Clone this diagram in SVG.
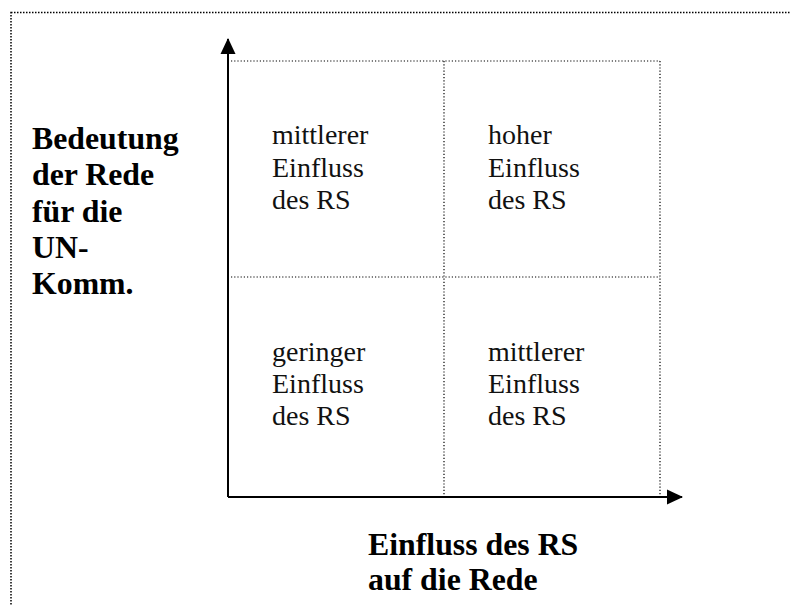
<svg xmlns="http://www.w3.org/2000/svg" width="791" height="606" viewBox="0 0 791 606">
  <style>
    .frame { fill: none; stroke: #000; stroke-width: 1.5; stroke-dasharray: 1.5 1.5; }
    .grid { fill: none; stroke: #000; stroke-width: 1.2; stroke-dasharray: 1.2 2; }
    .axis { fill: none; stroke: #000; stroke-width: 2; }
    .lbl { font-family: "Liberation Serif", "Times New Roman", serif; font-size: 31.8px; font-weight: bold; fill: #000; }
    .q { font-family: "Liberation Serif", "Times New Roman", serif; font-size: 28px; fill: #111; }
  </style>
  <defs>
    <marker id="arr" markerUnits="userSpaceOnUse" markerWidth="16" markerHeight="16" refX="15" refY="8" orient="auto">
      <path d="M0,0.5 L16,8 L0,15.5 Z" fill="#000"/>
    </marker>
  </defs>
  <rect width="791" height="606" fill="#fff"/>
  <rect class="frame" x="11" y="12.5" width="820" height="700"/>

  <g id="grid">
    <line class="grid" x1="231" y1="61" x2="660" y2="61"/>
    <line class="grid" x1="660" y1="61" x2="660" y2="497"/>
    <line class="grid" x1="444" y1="61" x2="444" y2="497"/>
    <line class="grid" x1="231" y1="277" x2="660" y2="277"/>
  </g>

  <g id="connectors">
    <line class="axis" x1="228" y1="497" x2="228" y2="39" marker-end="url(#arr)"/>
    <line class="axis" x1="228" y1="497" x2="682" y2="497" marker-end="url(#arr)"/>
  </g>

  <g id="label-y">
    <text class="lbl" x="32" y="149">Bedeutung</text>
    <text class="lbl" x="32" y="185">der Rede</text>
    <text class="lbl" x="32" y="221.5">für die</text>
    <text class="lbl" x="32" y="258">UN-</text>
    <text class="lbl" x="32" y="294">Komm.</text>
  </g>

  <g id="label-x">
    <text class="lbl" x="368" y="555">Einfluss des RS</text>
    <text class="lbl" x="368" y="590">auf die Rede</text>
  </g>

  <g id="q-top-left">
    <text class="q" x="272" y="144">mittlerer</text>
    <text class="q" x="272" y="177">Einfluss</text>
    <text class="q" x="272" y="209">des RS</text>
  </g>
  <g id="q-top-right">
    <text class="q" x="488" y="144">hoher</text>
    <text class="q" x="488" y="177">Einfluss</text>
    <text class="q" x="488" y="209">des RS</text>
  </g>
  <g id="q-bottom-left">
    <text class="q" x="272" y="361">geringer</text>
    <text class="q" x="272" y="393">Einfluss</text>
    <text class="q" x="272" y="425">des RS</text>
  </g>
  <g id="q-bottom-right">
    <text class="q" x="488" y="361">mittlerer</text>
    <text class="q" x="488" y="393">Einfluss</text>
    <text class="q" x="488" y="425">des RS</text>
  </g>
</svg>
